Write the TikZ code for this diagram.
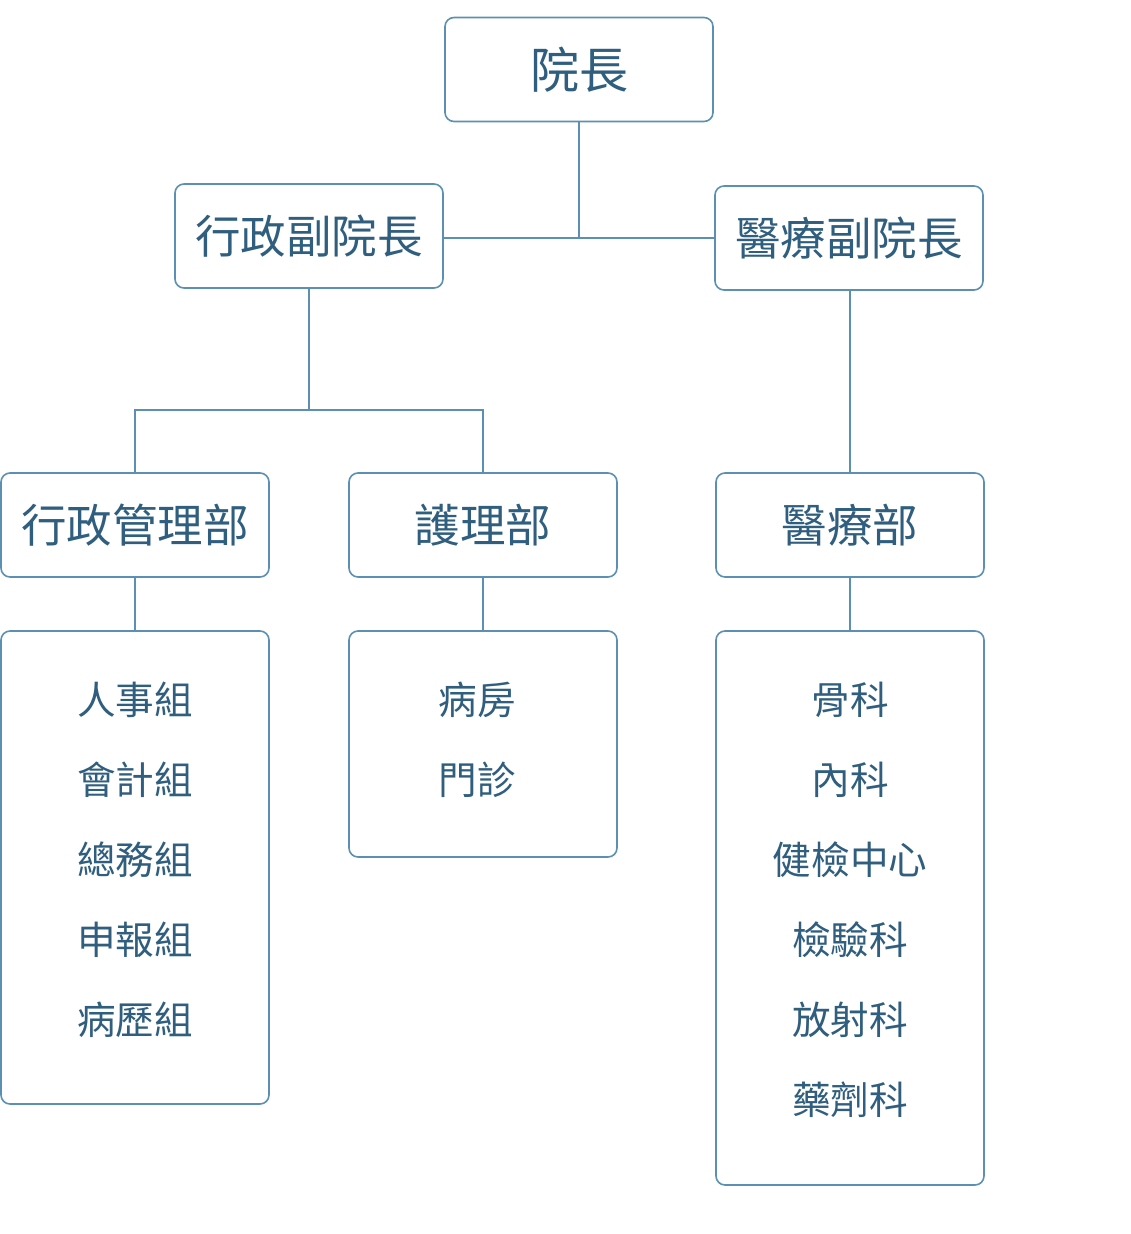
\documentclass[tikz,border=0pt]{standalone}
\usepackage{fontspec}
\newfontfamily\cjk{Noto Sans CJK TC}
\definecolor{edge}{HTML}{5B90B2}
\definecolor{txt}{HTML}{2F5E7E}
\begin{document}
\begin{tikzpicture}[x=1pt,y=-1pt,
  box/.style={draw=edge,line width=1.6pt,rounded corners=9pt,fill=white,inner sep=0pt},
  head/.style={box,minimum width=268pt,minimum height=104pt,text=txt,font=\cjk\fontsize{45.5}{48}\selectfont},
  item/.style={text=txt,font=\cjk\fontsize{38.6}{40}\selectfont,inner sep=0pt},
  link/.style={draw=edge,line width=1.6pt}]
\useasboundingbox (0,0) rectangle (1130,1234);
% list boxes
\node[box,minimum width=268pt,minimum height=473pt] (L) at (135,867.5) {};
\node[box,minimum width=268pt,minimum height=226pt] (M) at (483,744) {};
\node[box,minimum width=268pt,minimum height=554pt] (R) at (850,908) {};
% head boxes
\node[head,font=\cjk\fontsize{49}{52}\selectfont] (dean) at (579,69.5) {院長};
\node[head] (avp) at (309,236) {行政副院長};
\node[head] (mvp) at (849,238) {醫療副院長};
\node[head] (adm) at (135,525) {行政管理部};
\node[head] (nur) at (483,525) {護理部};
\node[head] (med) at (850,525) {醫療部};
% connectors
\coordinate (j1) at (579,238);
\coordinate (j2) at (309,410);
\draw[link] (dean.south) -- (j1);
\draw[link] (avp.east |- j1) -- (mvp.west |- j1);
\draw[link] (avp.south) -- (j2);
\draw[link] (adm.north) |- (j2) -| (nur.north);
\draw[link] (med.north |- mvp.south) -- (med.north);
\draw[link] (adm.south) -- (L.north);
\draw[link] (nur.south) -- (M.north);
\draw[link] (med.south) -- (R.north);
% items
\node[item] (l1) at (135,700) {人事組};
\node[item] (l2) at (135,780) {會計組};
\node[item] (l3) at (135,860) {總務組};
\node[item] (l4) at (135,940) {申報組};
\node[item] (l5) at (135,1020) {病歷組};
\node[item] (m1) at (477,700) {病房};
\node[item] (m2) at (477,780) {門診};
\node[item] (r1) at (850,700) {骨科};
\node[item] (r2) at (850,780) {內科};
\node[item] (r3) at (850,860) {健檢中心};
\node[item] (r4) at (850,940) {檢驗科};
\node[item] (r5) at (850,1020) {放射科};
\node[item] (r6) at (850,1100) {藥劑科};
\end{tikzpicture}
\end{document}
